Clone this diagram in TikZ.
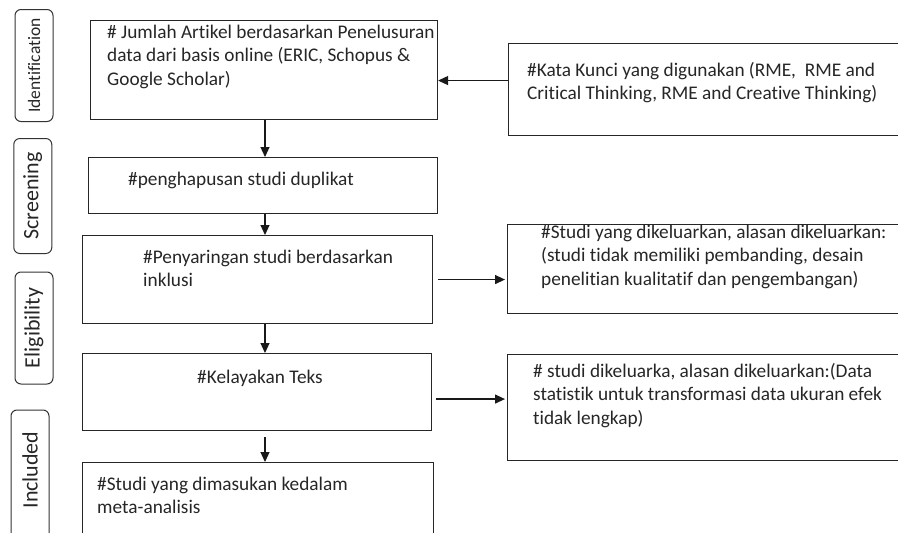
\documentclass[tikz,border=0pt]{standalone}
\usepackage{fontspec}
\setmainfont{Carlito}[Ligatures={TeX,NoCommon}]
\usetikzlibrary{arrows.meta}
\newcommand\boxfont{\fontsize{19.3}{23.6}\selectfont}
\newcommand\stagefont{\fontsize{22}{24}\selectfont}

\begin{document}
\begin{tikzpicture}[
  x=1pt,y=-1pt,
  stage/.style={draw=black!80,line width=1pt,rounded corners=6pt,rotate=90,
    minimum height=38,inner sep=0pt,font=\stagefont,text=black!85},
  prisma/.style={draw=black!85,line width=1.1pt,anchor=north west,inner sep=0pt},
  txt/.style={anchor=north west,align=left,inner sep=0pt,font=\boxfont,text=black!85},
  arr/.style={-{Triangle[length=10pt,width=9pt]},line width=1.2pt,color=black!90}
]
  \useasboundingbox (0,0) rectangle (898,533);
  \clip (0,0) rectangle (898,533);

  % stages on the left
  \node[stage,minimum width=112,font=\fontsize{17.5}{20}\selectfont] (identification) at (34,65.5) {Identification};
  \node[stage,minimum width=115] (screening) at (32.8,196) {Screening};
  \node[stage,minimum width=112] (eligibility) at (34,328) {Eligibility};
  \node[stage,minimum width=150] (included) at (30,485) {\hspace*{30pt}Included};

  % main column
  \node[prisma,minimum width=347,minimum height=99] (search) at (90,20) {};
  \node[txt] (searchtxt) at (107,21.5) {\strut\# Jumlah Artikel berdasarkan Penelusuran\\
    data dari basis online (ERIC, Schopus \&\\Google Scholar)};
  \node[prisma,minimum width=349,minimum height=56] (dedup) at (88,157) {};
  \node[txt] (deduptxt) at (128,168.5) {\strut\#penghapusan studi duplikat};
  \node[prisma,minimum width=350,minimum height=88] (screen) at (82,235) {};
  \node[txt] (screentxt) at (143,246.5) {\strut\#Penyaringan studi berdasarkan\\inklusi};
  \node[prisma,minimum width=349,minimum height=77] (fulltext) at (82,353) {};
  \node[txt] (fulltexttxt) at (197,366.5) {\strut\#Kelayakan Teks};
  \node[prisma,minimum width=351,minimum height=100] (incl) at (82,462) {};
  \node[txt] (incltxt) at (97,473.5) {\strut\#Studi yang dimasukan kedalam\\meta-analisis};

  % right column
  \node[prisma,minimum width=420,minimum height=92] (keyword) at (508,43) {};
  \node[txt] (keywordtxt) at (527,59.5) {\strut\#Kata Kunci yang digunakan (RME, \ RME and\\
    Critical Thinking, RME and Creative Thinking)};
  \node[prisma,minimum width=420,minimum height=89] (excl1) at (507,224) {};
  \node[txt] (excl1txt) at (541,221.5) {\strut\#Studi yang dikeluarkan, alasan dikeluarkan:\\
    (studi tidak memiliki pembanding, desain\\penelitian kualitatif dan pengembangan)};
  \node[prisma,minimum width=420,minimum height=106] (excl2) at (507,354) {};
  \node[txt] (excl2txt) at (533,360.5) {\strut\# studi dikeluarka, alasan dikeluarkan:(Data\\
    statistik untuk transformasi data ukuran efek\\tidak lengkap)};

  % connectors
  \coordinate (spine) at (265,0);
  \draw[arr] (search.south -| spine) -- (dedup.north -| spine);
  \draw[arr] (dedup.south -| spine) -- (screen.north -| spine);
  \draw[arr] (screen.south -| spine) -- (fulltext.north -| spine);
  \draw[arr,shorten <=6pt] (fulltext.south -| spine) -- (incl.north -| spine);
  \draw[arr] ([yshift=9pt]keyword.west) coordinate (kw) -- (kw -| search.east);
  \draw[arr,shorten <=5pt,shorten >=2pt] (screen.east) coordinate (sc) -- (sc -| excl1.west);
  \draw[arr,shorten <=4pt,shorten >=2pt] ([yshift=-7pt]fulltext.east) coordinate (ft) -- (ft -| excl2.west);
\end{tikzpicture}
\end{document}
